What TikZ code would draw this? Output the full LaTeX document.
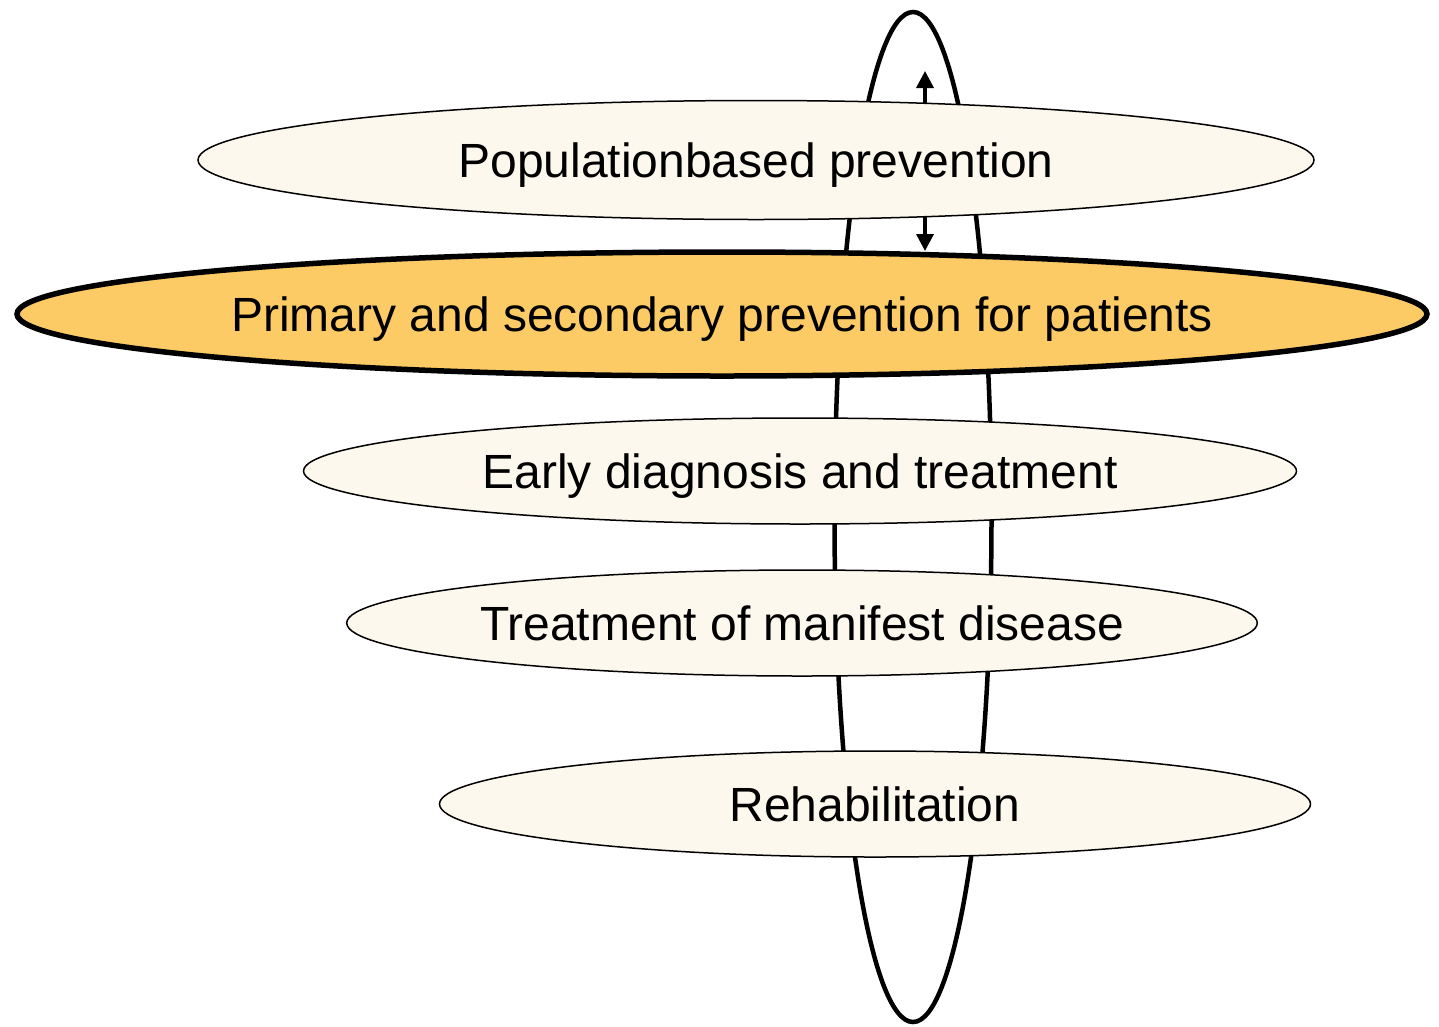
\documentclass[tikz,border=0pt]{standalone}
\usepackage{fontspec}
\setmainfont{Liberation Sans}
\usetikzlibrary{shapes.geometric,arrows.meta}
\definecolor{cream}{HTML}{FDF8EE}
\definecolor{gold}{HTML}{FCCB66}
\begin{document}
\begin{tikzpicture}[x=1pt,y=-1pt,
  level/.style={ellipse, draw=black, line width=1.5pt, fill=cream, inner sep=0pt,
    font=\fontsize{48}{52}\selectfont, text height=34.5pt, text depth=0pt},
  main/.style={level, fill=gold, line width=5.5pt},
  loopline/.style={draw=black, line width=4.5pt},
  dbl/.style={line width=3.5pt, {Triangle[length=17pt,width=17pt]}-{Triangle[length=17pt,width=17pt]}}]
\useasboundingbox (0,0) rectangle (1439,1026);
\fill[white] (0,0) rectangle (1439,1026);
% vertical loop behind everything
\node[ellipse, loopline, minimum width=157pt, minimum height=1010pt, inner sep=0pt] (loop) at (913,517) {};
% double arrow
\coordinate (atop) at (925,71);
\coordinate (abot) at (925,251);
\draw[dbl] (atop) -- (abot);
% levels
\node[level, minimum width=1116pt, minimum height=119pt] (pop) at (756,160) {Populationbased prevention};
\node[level, minimum width=993pt, minimum height=106pt] (early) at (800,471) {Early diagnosis and treatment};
\node[level, minimum width=907pt, minimum height=106pt] (treat) at (802,623) {Treatment of manifest disease};
\node[level, minimum width=871pt, minimum height=106pt] (rehab) at (875,804) {Rehabilitation};
\node[main, minimum width=1410pt, minimum height=124pt] (prim) at (722,314) {Primary and secondary prevention for patients};
\end{tikzpicture}
\end{document}
